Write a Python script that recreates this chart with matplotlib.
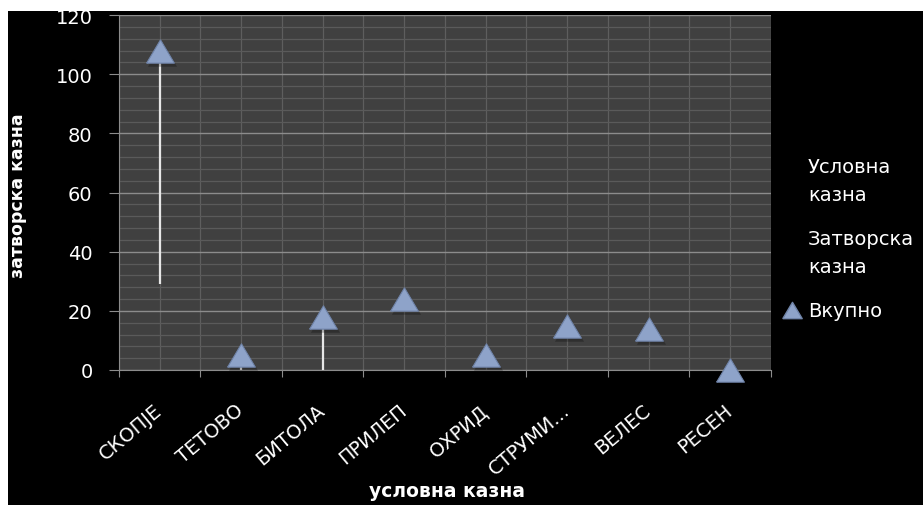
import matplotlib
matplotlib.use('Agg')
import matplotlib.pyplot as plt
import matplotlib.transforms as mtransforms
import numpy as np
from matplotlib.lines import Line2D
from matplotlib.patches import Rectangle

# ---- data ----
categories = ['СКОПЈЕ', 'ТЕТОВО', 'БИТОЛА', 'ПРИЛЕП', 'ОХРИД', 'СТРУМИ...', 'ВЕЛЕС', 'РЕСЕН']
uslovna = [79, 5, 18, 24, 5, 15, 14, 0]
zatvorska = [29, 0, 0, np.nan, np.nan, np.nan, np.nan, np.nan]
vkupno = [108, 5, 18, 24, 5, 15, 14, 0]
series_labels = ['Условна\nказна', 'Затворска\nказна', 'Вкупно']
x_title = 'условна казна'
y_title = 'затворска казна'

plt.rcParams['font.family'] = ['DejaVu Sans']

W, H = 923, 506
fig = plt.figure(figsize=(W / 100, H / 100), dpi=100, facecolor='black')

ax = fig.add_axes([119 / W, 1 - 371 / H, (770.7 - 119) / W, 355 / H])
ax.set_facecolor('#404040')

x = np.arange(len(categories))
allv = np.array([uslovna, zatvorska, vkupno], dtype=float)
low = np.nanmin(allv, axis=0)
high = np.nanmax(allv, axis=0)

# high-low lines
ax.vlines(x, low, high, colors='#e6e6e6', lw=1.6, zorder=3)

tri = [(-1, -0.84), (1, -0.84), (0, 0.84), (-1, -0.84)]
shadow_tr = mtransforms.offset_copy(ax.transData, fig=fig, x=2, y=-3, units='dots')
ax.plot(x, vkupno, linestyle='none', marker=tri, ms=21, mfc='black', mec='none',
        alpha=0.25, transform=shadow_tr, zorder=4, clip_on=False)
ax.plot(x, vkupno, linestyle='none', marker=tri, ms=20, mfc='#8ea3c9', mec='#7084a9',
        mew=0.8, zorder=5, clip_on=False)

ax.set_xlim(-0.5, len(categories) - 0.5)
ax.set_ylim(0, 120)
ax.set_yticks(np.arange(0, 121, 20))
ax.set_yticks(np.arange(0, 121, 4), minor=True)
ax.set_xticks(np.arange(-0.5, len(categories), 1))
ax.set_xticks(x, minor=True)
ax.set_xticklabels([], minor=False)
ax.set_xticklabels(categories, minor=True, rotation=40, ha='right', va='center',
                   rotation_mode='anchor')

ax.tick_params(axis='x', which='major', length=5, color='#8c8c8c', direction='out')
ax.tick_params(axis='x', which='minor', length=0, pad=27, labelsize=14, labelcolor='white')
ax.tick_params(axis='y', which='major', length=7, color='#8c8c8c', direction='out',
               labelsize=14, labelcolor='white', pad=12)
ax.tick_params(axis='y', which='minor', length=0)

ax.grid(axis='x', which='both', color='#5e5e5e', lw=0.9)
ax.grid(axis='y', which='minor', color='#5a5a5a', lw=0.9)
ax.grid(axis='y', which='major', color='#8c8c8c', lw=1.0)
ax.set_axisbelow(True)

for s in ['top', 'right']:
    ax.spines[s].set_visible(False)
for s in ['left', 'bottom']:
    ax.spines[s].set_color('#8c8c8c')

handles = [Line2D([], [], linestyle='none'),
           Line2D([], [], linestyle='none'),
           Line2D([], [], linestyle='none', marker=tri, ms=14, mfc='#8ea3c9', mec='#7084a9')]
leg = ax.legend(handles, series_labels, loc='upper left', bbox_to_anchor=(774 / W, 1 - 150 / H),
                bbox_transform=fig.transFigure, frameon=False, labelcolor='white',
                fontsize=14, handlelength=1.05, handletextpad=0.3, labelspacing=1.3,
                borderaxespad=0)
for t in leg.get_texts():
    t.set_linespacing(1.6)

fig.text(447 / W, 1 - 492 / H, x_title, ha='center', va='center', color='white',
         fontsize=13.5, fontweight='bold')
fig.text(18 / W, 1 - 196 / H, y_title, ha='center', va='center', color='white',
         fontsize=12.5, fontweight='bold', rotation=90)

# white strips at top and left edges
fig.add_artist(Rectangle((0, 1 - 12 / H), 1, 12 / H, transform=fig.transFigure,
                         facecolor='white', edgecolor='none', zorder=10))
fig.add_artist(Rectangle((0, 0), 8 / W, 1, transform=fig.transFigure,
                         facecolor='white', edgecolor='none', zorder=10))

fig.savefig('out.png', dpi=100, facecolor=fig.get_facecolor())
